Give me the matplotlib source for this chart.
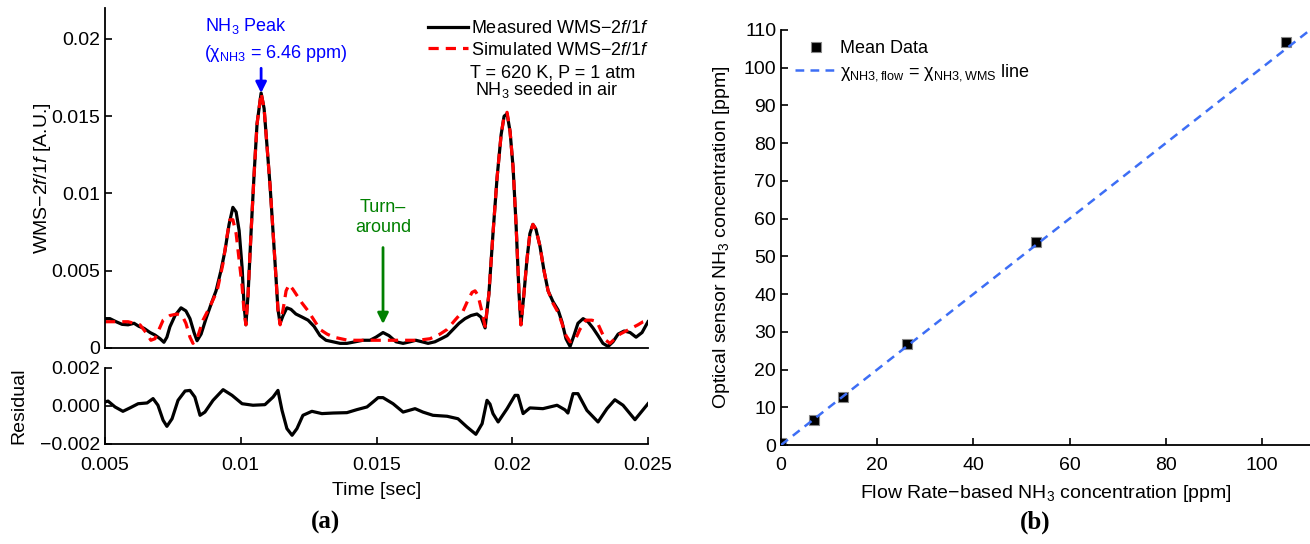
import numpy as np
import matplotlib
matplotlib.use("Agg")
import matplotlib.pyplot as plt

# ---- data ----
# time in ms
t_meas_ms = [5.00, 5.18, 5.41, 5.63, 5.85, 6.07, 6.25, 6.44, 6.66, 6.84, 7.03, 7.17, 7.28, 7.39,
             7.58, 7.80, 7.98, 8.13, 8.28, 8.39, 8.54, 8.72, 8.90, 9.09, 9.27, 9.42, 9.57, 9.71,
             9.83, 9.94, 10.05, 10.12, 10.19, 10.27, 10.38, 10.49, 10.60, 10.75, 10.86, 10.97,
             11.08, 11.19, 11.30, 11.37, 11.45, 11.56, 11.70, 11.85, 12.03, 12.26, 12.48, 12.70,
             12.92, 13.14, 13.40, 13.66, 13.91, 14.21, 14.50, 14.76, 14.98, 15.24, 15.46, 15.72,
             15.98, 16.23, 16.45, 16.68, 16.90, 17.15, 17.38, 17.60, 17.82, 18.04, 18.26, 18.48,
             18.70, 18.85, 19.00, 19.14, 19.29, 19.44, 19.59, 19.70, 19.81, 19.92, 20.03, 20.14,
             20.25, 20.32, 20.43, 20.54, 20.65, 20.76, 20.87, 21.02, 21.17, 21.32, 21.50, 21.69,
             21.83, 21.98, 22.13, 22.27, 22.42, 22.61, 22.79, 22.97, 23.16, 23.34, 23.53, 23.71,
             23.90, 24.12, 24.34, 24.56, 24.78, 25.00]
wms_meas = [0.0019, 0.0019, 0.0017, 0.00153, 0.0015, 0.0016, 0.0014, 0.00127, 0.0010, 0.00084,
            0.0006, 0.00037, 0.0007, 0.00137, 0.0021, 0.0026, 0.0024, 0.0019, 0.0010, 0.00047,
            0.0009, 0.0019, 0.0028, 0.0037, 0.0050, 0.0063, 0.0080, 0.0091, 0.0088, 0.0076,
            0.0052, 0.0028, 0.0015, 0.0035, 0.0075, 0.0112, 0.0145, 0.0165, 0.0155, 0.0130,
            0.0105, 0.0075, 0.0045, 0.0025, 0.0016, 0.0021, 0.0026, 0.0025, 0.0022, 0.0020,
            0.0018, 0.0014, 0.0008, 0.0005, 0.0004, 0.0003, 0.0003, 0.0004, 0.0005, 0.0005,
            0.0007, 0.0010, 0.0008, 0.0004, 0.0003, 0.0004, 0.0005, 0.0004, 0.0003, 0.0004,
            0.0006, 0.0008, 0.0012, 0.0016, 0.0019, 0.0021, 0.0022, 0.0020, 0.0013, 0.0035,
            0.0074, 0.0110, 0.0138, 0.0150, 0.01515, 0.0140, 0.0117, 0.0080, 0.0035, 0.0015,
            0.0035, 0.0057, 0.0074, 0.0080, 0.0077, 0.0066, 0.0050, 0.0037, 0.0030, 0.00245,
            0.0017, 0.0006, 0.0001, 0.0008, 0.0016, 0.0019, 0.0017, 0.0013, 0.0008, 0.0003,
            0.0001, 0.0004, 0.0009, 0.0011, 0.0010, 0.0007, 0.0010, 0.0017]

t_sim_ms = [5.00, 5.26, 5.55, 5.85, 6.07, 6.29, 6.51, 6.69, 6.84, 6.99, 7.14, 7.39, 7.65, 7.84,
            7.98, 8.13, 8.24, 8.39, 8.61, 8.87, 9.13, 9.35, 9.49, 9.60, 9.71, 9.83, 9.94, 10.05,
            10.12, 10.19, 10.27, 10.38, 10.49, 10.60, 10.75, 10.86, 10.97, 11.08, 11.19, 11.30,
            11.37, 11.45, 11.56, 11.67, 11.78, 11.92, 12.07, 12.26, 12.48, 12.70, 12.92, 13.18,
            13.43, 13.69, 13.95, 14.39, 14.94, 15.50, 16.05, 16.53, 16.97, 17.34, 17.60, 17.89,
            18.19, 18.37, 18.52, 18.63, 18.74, 18.85, 19.00, 19.14, 19.29, 19.44, 19.59, 19.70,
            19.81, 19.92, 20.03, 20.14, 20.25, 20.32, 20.43, 20.54, 20.65, 20.76, 20.87, 21.02,
            21.17, 21.32, 21.50, 21.69, 21.83, 21.98, 22.13, 22.31, 22.49, 22.71, 22.93, 23.12,
            23.30, 23.45, 23.60, 23.78, 23.97, 24.19, 24.41, 24.63, 24.82, 25.00]
wms_sim = [0.0017, 0.0017, 0.0017, 0.0017, 0.0016, 0.0015, 0.0010, 0.0005, 0.0006, 0.0012,
           0.0018, 0.0021, 0.0022, 0.0021, 0.0016, 0.0007, 0.0003, 0.0006, 0.0018, 0.0027,
           0.0037, 0.0055, 0.0072, 0.0083, 0.0083, 0.0074, 0.0057, 0.0040, 0.0024, 0.0015,
           0.0035, 0.0075, 0.0112, 0.0145, 0.0165, 0.0155, 0.0130, 0.0105, 0.0075, 0.0045,
           0.0025, 0.0015, 0.0025, 0.0037, 0.0041, 0.0038, 0.0034, 0.0029, 0.0024, 0.0018,
           0.0012, 0.0009, 0.0007, 0.0006, 0.0005, 0.0005, 0.0005, 0.0005, 0.0005, 0.0005,
           0.0006, 0.0009, 0.0012, 0.0018, 0.0024, 0.0031, 0.0036, 0.0037, 0.0034, 0.0026,
           0.0014, 0.0035, 0.0074, 0.0110, 0.0138, 0.0150, 0.01525, 0.0140, 0.0117, 0.0080,
           0.0035, 0.0015, 0.0035, 0.0057, 0.0074, 0.0080, 0.0077, 0.0066, 0.0050, 0.0037,
           0.0029, 0.0023, 0.0016, 0.0008, 0.0004, 0.0005, 0.0012, 0.0018, 0.0018, 0.0017,
           0.0010, 0.0005, 0.0003, 0.0006, 0.0009, 0.0011, 0.0013, 0.0015, 0.0017, 0.0018]

t_res_ms = [5.00, 5.11, 5.37, 5.66, 5.92, 6.22, 6.55, 6.77, 6.95, 7.14, 7.28, 7.47, 7.69, 7.95,
            8.13, 8.31, 8.50, 8.68, 8.98, 9.35, 9.68, 10.05, 10.45, 10.89, 11.19, 11.37, 11.52,
            11.70, 11.89, 12.07, 12.29, 12.62, 12.99, 13.40, 13.91, 14.28, 14.65, 14.87, 15.06,
            15.24, 15.61, 15.98, 16.42, 16.71, 17.08, 17.60, 18.00, 18.33, 18.66, 18.89, 19.07,
            19.18, 19.29, 19.48, 19.81, 20.10, 20.21, 20.40, 20.65, 21.13, 21.65, 21.94, 22.05,
            22.24, 22.42, 22.75, 23.16, 23.49, 23.78, 24.08, 24.52, 25.00]
residual = [0.00021, 0.00026, -0.00005, -0.00028, -0.0001, 0.00012, 0.00016, 0.00039, 0.00004,
            -0.00075, -0.00107, -0.00067, 0.0003, 0.00079, 0.00082, 0.00047, -0.00049, -0.00032,
            0.0003, 0.00086, 0.00056, 0.00012, 0.00004, 0.00007, 0.00047, 0.00082, -0.00023,
            -0.00119, -0.00154, -0.00119, -0.00049, -0.00028, -0.0004, -0.00037, -0.00035,
            -0.00019, -0.00005, 0.00021, 0.00044, 0.00044, 0.00012, -0.00032, -0.00014,
            -0.00032, -0.00049, -0.00054, -0.00067, -0.0011, -0.00149, -0.00093, 0.0003, 0.0001,
            -0.0004, -0.00084, -0.00014, 0.00056, 0.00056, -0.0004, -0.0001, -0.00014, 0.00004,
            -0.0002, -0.00037, 0.00065, 0.00065, -0.00023, -0.00084, -0.00014, 0.00033, 0.00004,
            -0.00072, 0.00012]

flow_ppm = [0, 6.9, 12.8, 26.3, 53.0, 105.0]
wms_ppm = [0.5, 6.5, 12.7, 26.7, 53.7, 106.8]
one_to_one = [0, 110]

time_ticks = [0.005, 0.01, 0.015, 0.02, 0.025]
time_labels = ["0.005", "0.01", "0.015", "0.02", "0.025"]
wms_ticks = [0, 0.005, 0.01, 0.015, 0.02]
wms_labels = ["0", "0.005", "0.01", "0.015", "0.02"]
res_ticks = [-0.002, 0, 0.002]
res_labels = ["\u22120.002", "0.000", "0.002"]
conc_ticks = list(range(0, 111, 10))
conc_xticks = [0, 20, 40, 60, 80, 100]

plt.rcParams['font.family'] = ['Liberation Sans', 'DejaVu Sans']
plt.rcParams['mathtext.fontset'] = 'custom'
plt.rcParams['mathtext.rm'] = 'Liberation Sans'
plt.rcParams['mathtext.it'] = 'Liberation Sans:italic'
plt.rcParams['mathtext.bf'] = 'Liberation Sans:bold'
plt.rcParams['xtick.direction'] = 'in'
plt.rcParams['ytick.direction'] = 'in'
plt.rcParams['font.size'] = 14

t_meas = np.array(t_meas_ms) * 1e-3
t_sim = np.array(t_sim_ms) * 1e-3
t_res = np.array(t_res_ms) * 1e-3

W, H = 1310, 544
fig = plt.figure(figsize=(W / 100, H / 100), dpi=100)


def px_axes(left, top, right, bottom):
    return fig.add_axes([left / W, 1 - bottom / H, (right - left) / W, (bottom - top) / H])


def clean(ax):
    ax.spines['top'].set_visible(False)
    ax.spines['right'].set_visible(False)
    for s in ('left', 'bottom'):
        ax.spines[s].set_linewidth(1.3)
    ax.tick_params(width=1.2, length=5, labelsize=14)
    ax.tick_params(axis='x', pad=9)


# ---- (a) top: WMS signal ----
ax1 = px_axes(105, 8, 648, 348)
clean(ax1)
ax1.plot(t_meas, wms_meas, color='black', lw=2.3, label='Measured WMS$-$2$\\it{f}$/1$\\it{f}$')
ax1.plot(t_sim, wms_sim, color='red', lw=2.3, ls=(0, (3.2, 2.2)),
         label='Simulated WMS$-$2$\\it{f}$/1$\\it{f}$')
ax1.set_xlim(0.005, 0.025)
ax1.set_ylim(0, 0.022)
ax1.set_yticks(wms_ticks)
ax1.set_yticklabels(wms_labels)
ax1.tick_params(axis='x', length=0, labelbottom=False)
ax1.set_ylabel('WMS$-$2$\\it{f}$/1$\\it{f}$ [A.U.]', fontsize=14, labelpad=-1)

leg = ax1.legend(loc='upper left', bbox_to_anchor=(428 / W, 1 - 20 / H),
                 bbox_transform=fig.transFigure, frameon=False, fontsize=13,
                 handlelength=2.2, handletextpad=0.2, labelspacing=0.25, borderpad=0,
                 borderaxespad=0)
fig.text(470 / W, 1 - 73 / H, 'T = 620 K, P = 1 atm', fontsize=13, va='center')
fig.text(475 / W, 1 - 90 / H, 'NH$_3$ seeded in air', fontsize=13, va='center')

# peak annotation
fig.text(205 / W, 1 - 26 / H, 'NH$_3$ Peak', color='blue', fontsize=13, va='center')
fig.text(204 / W, 1 - 53 / H, '(\u03c7$_{\\mathrm{NH3}}$ = 6.46 ppm)', color='blue',
         fontsize=13, va='center')
ax1.annotate('', xy=(0.01075, 0.0165), xytext=(0.01075, 0.0181),
             arrowprops=dict(arrowstyle='-|>', color='blue', lw=2, mutation_scale=16,
                             shrinkA=0, shrinkB=0))

# turn-around annotation
fig.text(383 / W, 1 - 208 / H, 'Turn\u2013', color='green', fontsize=13, ha='center', va='center')
fig.text(383 / W, 1 - 227 / H, 'around', color='green', fontsize=13, ha='center', va='center')
ax1.annotate('', xy=(0.01524, 0.00155), xytext=(0.01524, 0.0065),
             arrowprops=dict(arrowstyle='-|>', color='green', lw=2, mutation_scale=16,
                             shrinkA=0, shrinkB=0))

# ---- (a) bottom: residual ----
ax2 = px_axes(105, 368, 648, 444)
clean(ax2)
ax2.plot(t_res, residual, color='black', lw=2.3)
ax2.set_xlim(0.005, 0.025)
ax2.set_ylim(-0.002, 0.002)
ax2.set_xticks(time_ticks)
ax2.set_xticklabels(time_labels)
ax2.set_yticks(res_ticks)
ax2.set_yticklabels(res_labels)
ax2.set_ylabel('Residual', fontsize=14, labelpad=9)
ax2.set_xlabel('Time [sec]', fontsize=14, labelpad=6)

# ---- (b) calibration ----
ax3 = px_axes(781, 30, 1310, 445)
clean(ax3)
ax3.plot(one_to_one, one_to_one, color='#3d6ef5', lw=1.8, ls=(0, (3.5, 2.5)),
         label='\u03c7$_{\\mathrm{NH3,flow}}$ = \u03c7$_{\\mathrm{NH3,WMS}}$ line', zorder=3)
ax3.plot(flow_ppm, wms_ppm, ls='none', marker='s', markersize=7.5, color='black',
         markeredgecolor='#888888', markeredgewidth=0.8, label='Mean Data', zorder=2)
ax3.set_xlim(0, 110)
ax3.set_ylim(0, 110)
ax3.set_xticks(conc_xticks)
ax3.set_yticks(conc_ticks)
ax3.set_xlabel('Flow Rate\u2212based NH$_3$ concentration [ppm]', fontsize=14, labelpad=6)
ax3.set_ylabel('Optical sensor NH$_3$ concentration [ppm]', fontsize=14, labelpad=8)
h, l = ax3.get_legend_handles_labels()
ax3.legend([h[1], h[0]], [l[1], l[0]], loc='upper left', bbox_to_anchor=(795 / W, 1 - 40 / H),
           bbox_transform=fig.transFigure, frameon=False, fontsize=13,
           handlelength=2.3, handletextpad=0.2, labelspacing=0.3, borderpad=0,
           borderaxespad=0)

# panel letters
fig.text(325 / W, 1 - 522 / H, '(a)', family='Liberation Serif', weight='bold', fontsize=18,
         ha='center', va='center')
fig.text(1035 / W, 1 - 522 / H, '(b)', family='Liberation Serif', weight='bold', fontsize=18,
         ha='center', va='center')

fig.savefig('out.png', dpi=100)
